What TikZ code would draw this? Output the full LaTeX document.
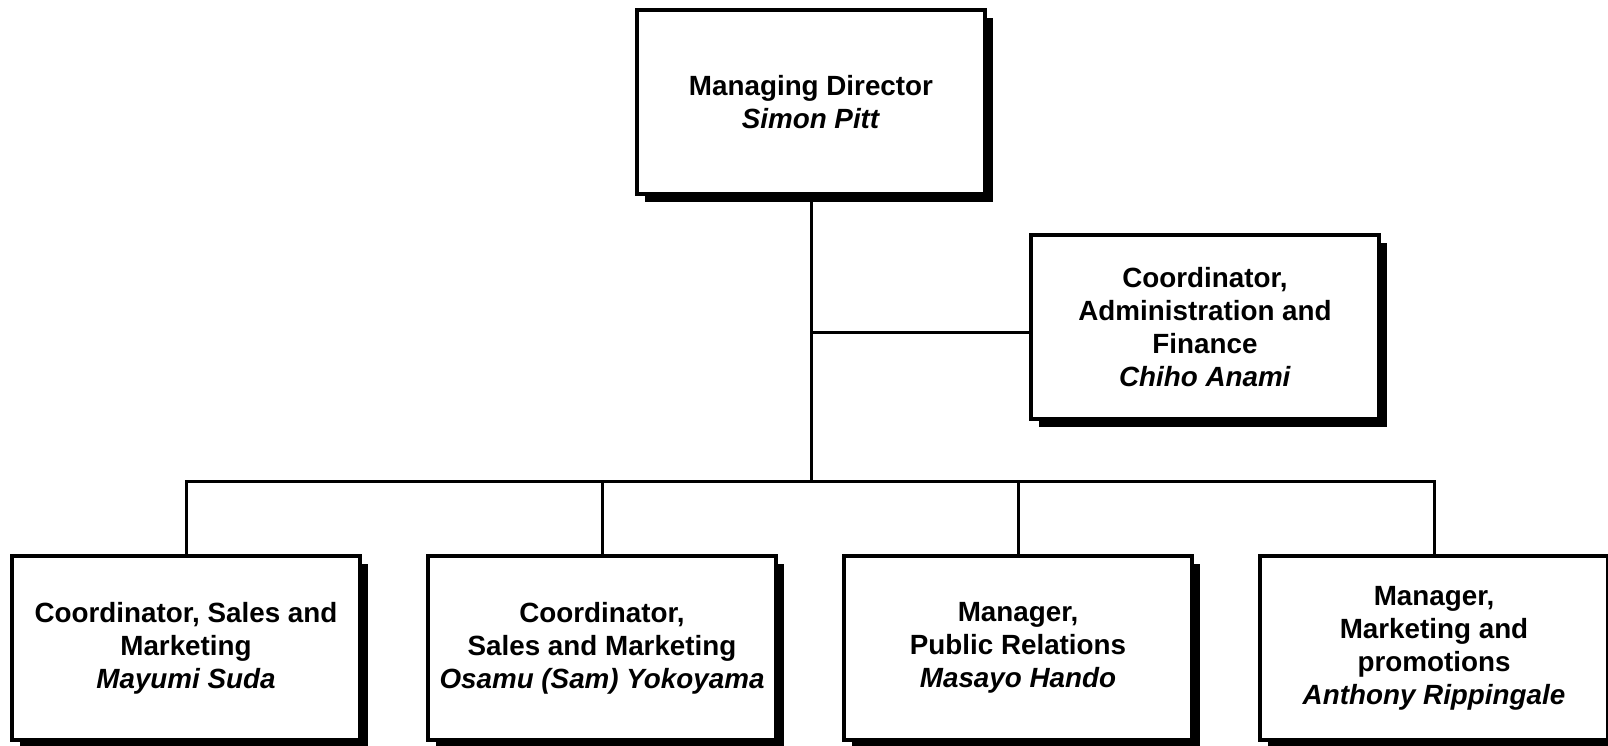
\documentclass[tikz,border=0pt]{standalone}
\usepackage{fontspec}
\setmainfont{Liberation Sans}
\usetikzlibrary{shadows, positioning, calc}

\begin{document}
\begin{tikzpicture}[x=1pt, y=-1pt,
    post/.style={draw, line width=3.2pt, fill=white, align=center,
        minimum width=348pt, minimum height=184pt, inner sep=0pt,
        font=\fontsize{27.8}{33}\selectfont\bfseries,
        drop shadow={shadow xshift=8pt, shadow yshift=-8pt, opacity=1, fill=black}},
    link/.style={line width=3pt}]
\useasboundingbox (0,0) rectangle (1608,745);
% Director and staff post
\node[post] (md) at (811,102) {Managing Director\\\textit{Simon Pitt}};
\node[post] (admin) at (1205,327) {Coordinator,\\Administration and\\Finance\\\textit{Chiho Anami}};
% Bottom row
\node[post] (sales) at (186,648) {Coordinator, Sales and\\Marketing\\\textit{Mayumi Suda}};
\node[post] (salesb) at (602,648) {Coordinator,\\Sales and Marketing\\\textit{Osamu (Sam) Yokoyama}};
\node[post] (pr) at (1018,648) {Manager,\\Public Relations\\\textit{Masayo Hando}};
\node[post] (promo) at (1434,648) {Manager,\\Marketing and\\promotions\\\textit{Anthony Rippingale}};
\coordinate (bus) at (811,481);
\coordinate (tap) at ([yshift=-5pt]admin.west);
% Connectors
\draw[link] (md.south) -- (bus);
\draw[link] (md.south |- tap) -- (tap);
\draw[link] (sales.north) |- (bus) -| (promo.north);
\draw[link] (salesb.north) -- (salesb.north |- bus);
\draw[link] (pr.north) -- (pr.north |- bus);
\end{tikzpicture}
\end{document}
